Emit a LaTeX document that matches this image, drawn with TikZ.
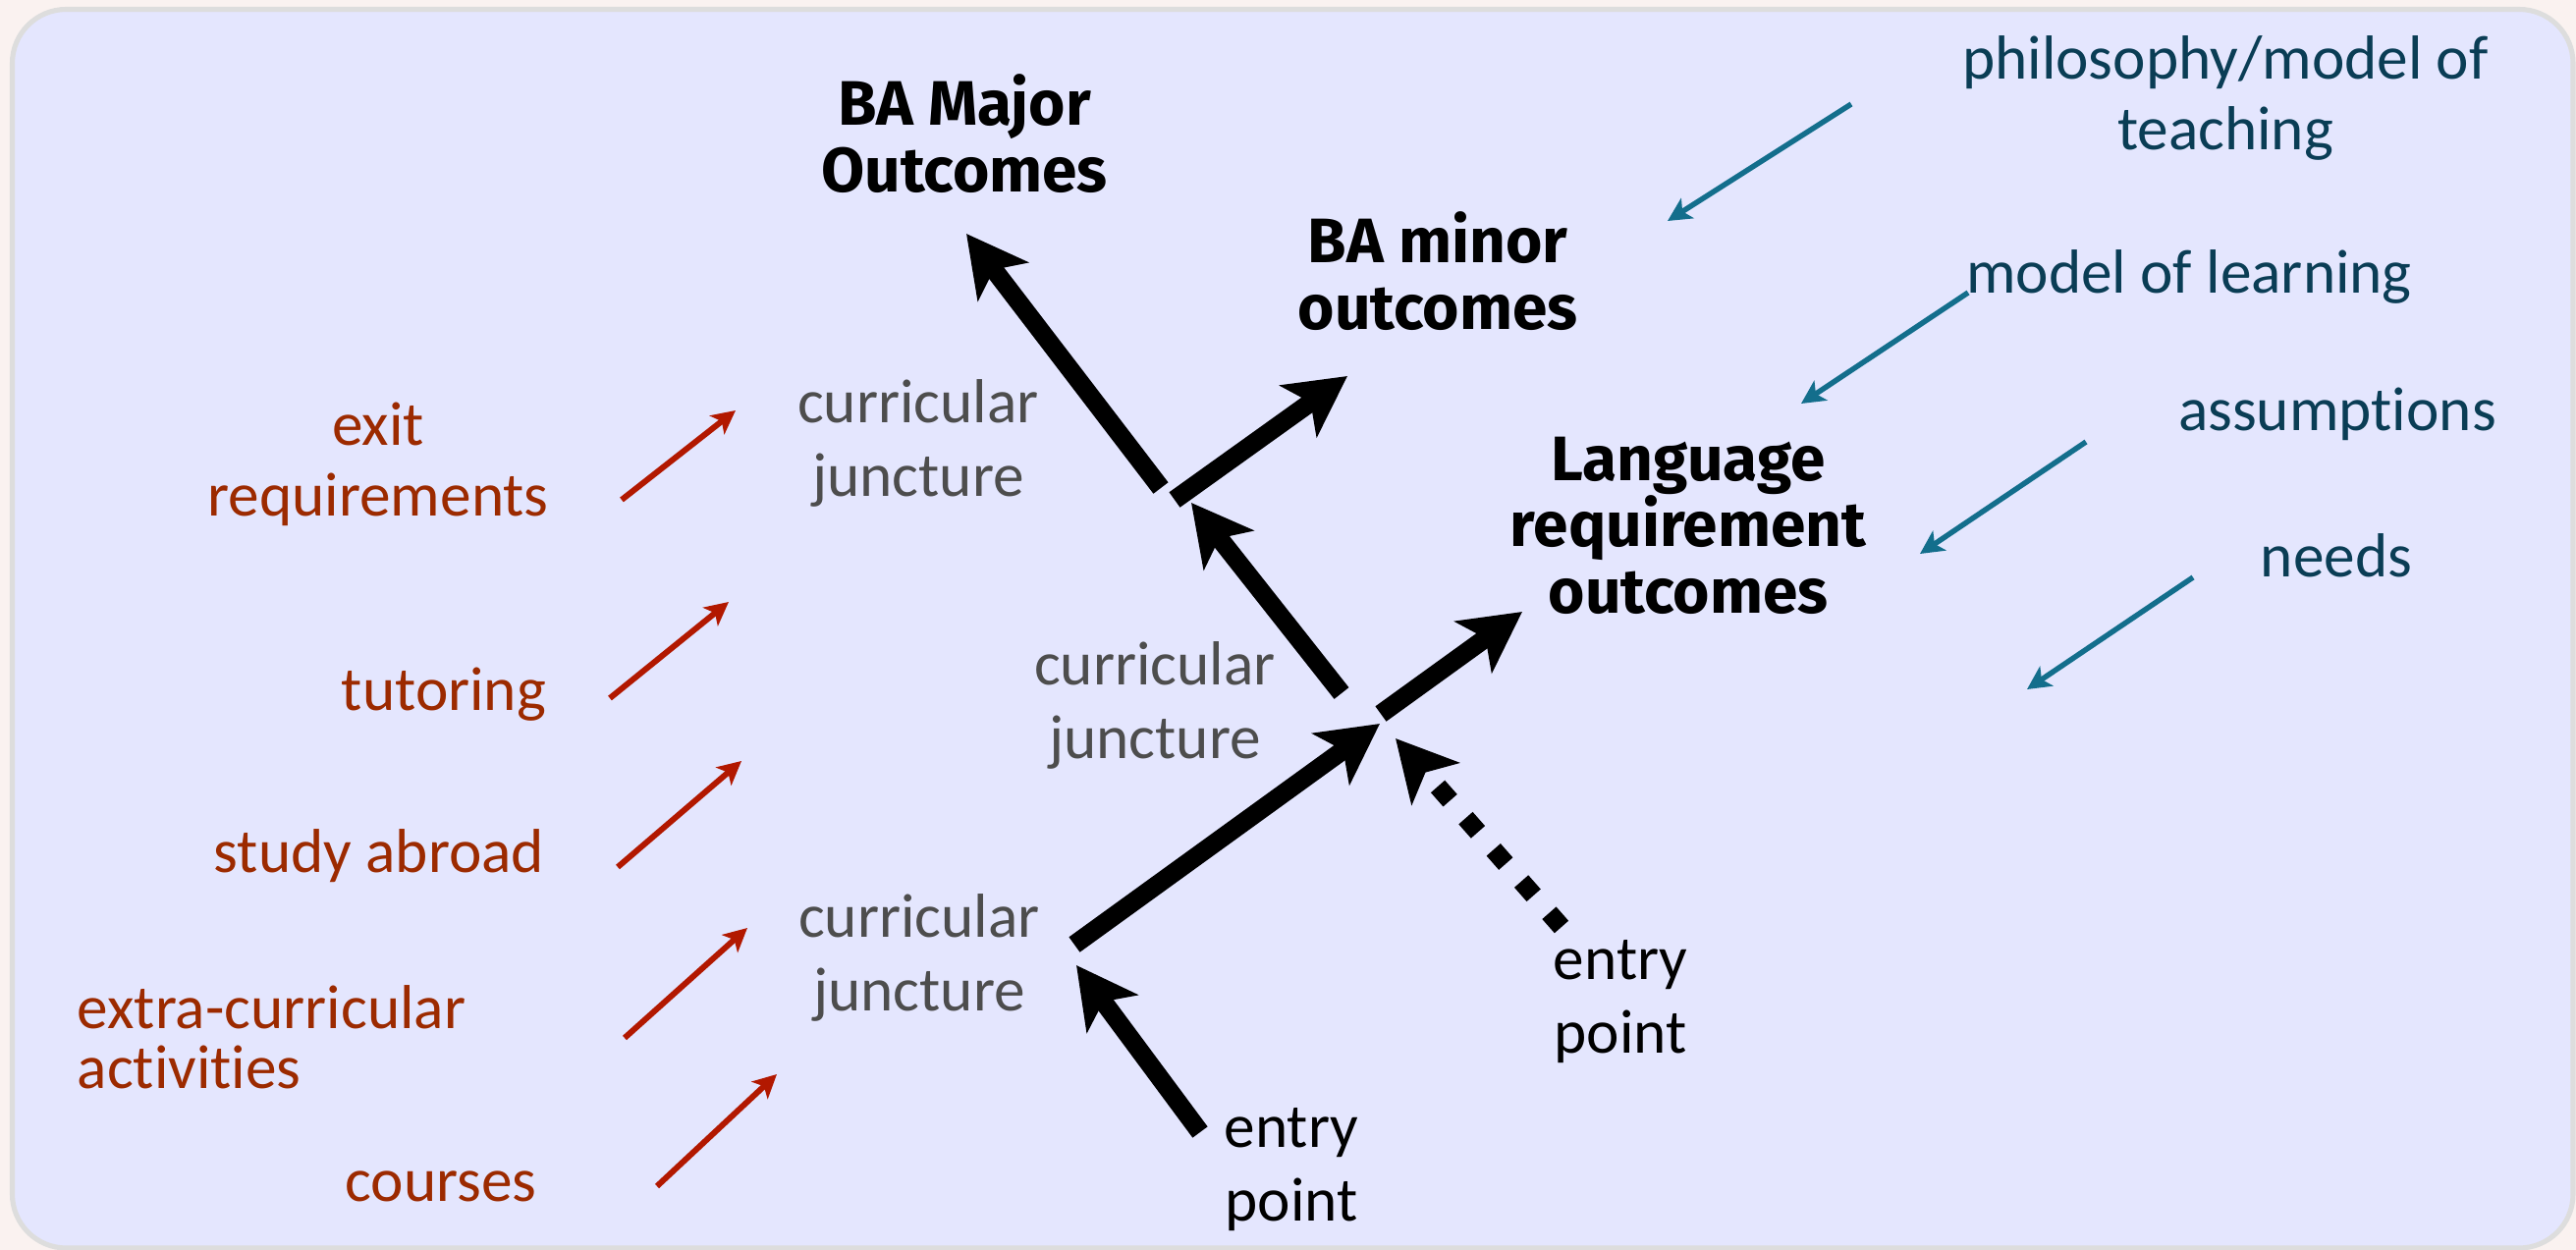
\documentclass[tikz,border=0pt]{standalone}
\usepackage{fontspec}
\setmainfont{Carlito}[Ligatures={NoCommon}]
\newfontfamily\headfont{Fira Sans}
\usetikzlibrary{arrows.meta}
\definecolor{outerbg}{RGB}{250,242,240}
\definecolor{innerbg}{RGB}{228,230,254}
\definecolor{framegray}{RGB}{221,221,221}
\definecolor{jgray}{RGB}{77,77,77}
\definecolor{redtext}{RGB}{156,42,0}
\definecolor{redarrow}{RGB}{178,24,0}
\definecolor{bluetext}{RGB}{10,61,85}
\definecolor{bluearrow}{RGB}{19,110,140}
\tikzset{
  txt/.style={inner sep=0pt, align=center, font=\fontsize{18}{21.3}\selectfont},
  headtxt/.style={inner sep=0pt, align=center, font=\headfont\bfseries\fontsize{18.2}{19.2}\selectfont},
  grayt/.style={txt, text=jgray},
  redt/.style={txt, text=redtext, font=\fontsize{18}{20.5}\selectfont},
  bluet/.style={txt, text=bluetext, font=\fontsize{18}{20.5}\selectfont},
  blackt/.style={txt, text=black},
  bigarrow/.style={line width=5.4pt, black, -{Stealth[length=17.4pt, width=18.2pt, inset=4.3pt]}},
  dottedarrow/.style={bigarrow, dash pattern=on 5.4pt off 6.8pt},
  redarr/.style={line width=1.7pt, redarrow, -{Stealth[length=6.8pt, width=6.8pt, inset=1.7pt]}},
  bluearr/.style={line width=1.55pt, bluearrow, -{Stealth[length=6.8pt, width=6.8pt, inset=1.7pt]}},
}
\begin{document}
\begin{tikzpicture}[x=0.01cm, y=-0.01cm]
\useasboundingbox (0,0) rectangle (2623,1273);
\fill[outerbg] (0,0) rectangle (2623,1273);
\draw[framegray, line width=1.45pt, fill=innerbg, rounded corners=15.6pt] (12.5,9.5) rectangle (2620,1271);

% outcome labels
\node[headtxt] (bamaj) at (982,136) {BA Major\\Outcomes};
\node[headtxt] (bamin) at (1464,276) {BA minor\\outcomes};
\node[headtxt] (lang) at (1719,535) {Language\\requirement\\outcomes};

% junctures
\node[grayt] (cj1) at (935,451) {curricular\\juncture};
\node[grayt] (cj2) at (1176,718) {curricular\\juncture};
\node[grayt] (cj3) at (936,975) {curricular\\juncture};

% entry points
\node[blackt] (ep1) at (1650,1020) {entry\\point};
\node[blackt] (ep2) at (1315,1191) {entry\\point};

% red labels
\node[redt] (exitr) at (385,473) {exit\\requirements};
\node[redt] (tut) at (452,707) {tutoring};
\node[redt] (study) at (386,872) {study abroad};
\node[redt, align=left, anchor=west, font=\fontsize{18}{17.4}\selectfont] (extra) at (78,1056) {extra-curricular\\activities};
\node[redt] (courses) at (449,1208) {courses};

% blue labels
\node[bluet] (phil) at (2266,100) {philosophy/model of\\teaching};
\node[bluet] (mol) at (2229,282) {model of learning};
\node[bluet] (ass) at (2380,422) {assumptions};
\node[bluet] (needs) at (2379,566) {needs};

% black arrow end points
\coordinate (a1t) at (1222,1153); \coordinate (a1h) at (1096,983);
\coordinate (a2t) at (1094,962);  \coordinate (a2h) at (1405,737);
\coordinate (a3t) at (1590,944);  \coordinate (a3h) at (1421,752);
\coordinate (a4t) at (1406,727);  \coordinate (a4h) at (1550,623);
\coordinate (a5t) at (1366,706);  \coordinate (a5h) at (1213,512);
\coordinate (a6t) at (1196,509);  \coordinate (a6h) at (1372,383);
\coordinate (a7t) at (1182,497);  \coordinate (a7h) at (984,238);

\draw[bigarrow] (a1t) -- (a1h);
\draw[bigarrow] (a2t) -- (a2h);
\draw[dottedarrow] (a3t) -- (a3h);
\draw[bigarrow] (a4t) -- (a4h);
\draw[bigarrow] (a5t) -- (a5h);
\draw[bigarrow] (a6t) -- (a6h);
\draw[bigarrow] (a7t) -- (a7h);

% red arrows
\coordinate (r1t) at (633,509);  \coordinate (r1h) at (749,418);
\coordinate (r2t) at (621,711);  \coordinate (r2h) at (742,613);
\coordinate (r3t) at (629,883);  \coordinate (r3h) at (755,775);
\coordinate (r4t) at (636,1057); \coordinate (r4h) at (761,945);
\coordinate (r5t) at (669,1208); \coordinate (r5h) at (791,1094);
\draw[redarr] (r1t) -- (r1h);
\draw[redarr] (r2t) -- (r2h);
\draw[redarr] (r3t) -- (r3h);
\draw[redarr] (r4t) -- (r4h);
\draw[redarr] (r5t) -- (r5h);

% blue arrows
\coordinate (b1t) at (1885,106); \coordinate (b1h) at (1698,225);
\coordinate (b2t) at (2004,298); \coordinate (b2h) at (1834,411);
\coordinate (b3t) at (2124,450); \coordinate (b3h) at (1955,564);
\coordinate (b4t) at (2233,588); \coordinate (b4h) at (2064,702);
\draw[bluearr] (b1t) -- (b1h);
\draw[bluearr] (b2t) -- (b2h);
\draw[bluearr] (b3t) -- (b3h);
\draw[bluearr] (b4t) -- (b4h);
\end{tikzpicture}
\end{document}
